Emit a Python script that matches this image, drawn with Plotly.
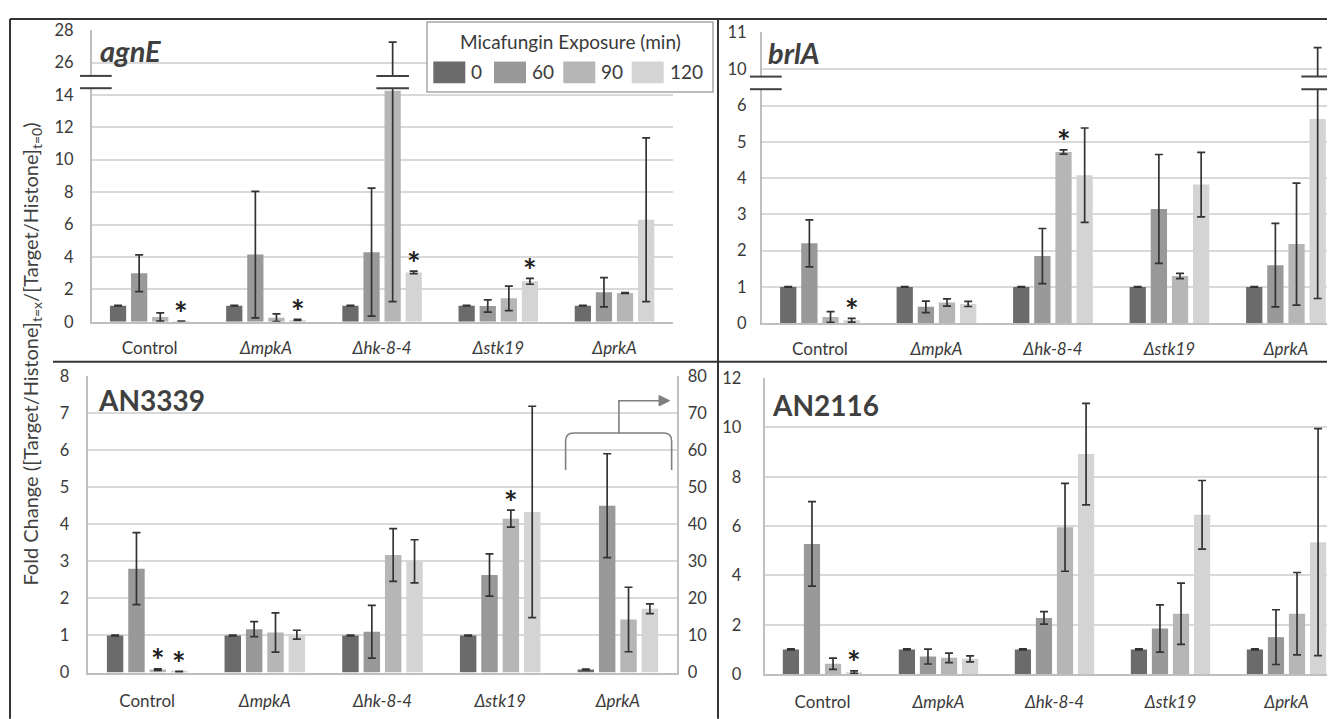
import plotly.graph_objects as go

# ---------------- data ----------------
categories = ["Control", "ΔmpkA", "Δhk-8-4", "Δstk19", "ΔprkA"]
tick_labels = ["Control", "<i>ΔmpkA</i>", "<i>Δhk-8-4</i>", "<i>Δstk19</i>", "<i>ΔprkA</i>"]
times = ["0", "60", "90", "120"]
colors = ["#6b6b6b", "#999999", "#b6b6b6", "#d4d4d4"]

# rows = exposure time (0, 60, 90, 120 min), columns = strain
agnE_mean = [[1.0, 1.0, 1.0, 1.0, 1.0],
             [3.0, 4.15, 4.3, 0.98, 1.83],
             [0.3, 0.25, 14.25, 1.45, 1.78],
             [0.03, 0.12, 3.05, 2.5, 6.3]]
agnE_err = [[0.02, 0.02, 0.02, 0.02, 0.02],
            [1.13, 3.9, 3.95, 0.38, 0.9],
            [0.25, 0.24, 13.0, 0.76, 0.03],
            [0.01, 0.03, 0.08, 0.18, 5.05]]

brlA_mean = [[1.0, 1.0, 1.0, 1.0, 1.0],
             [2.2, 0.45, 1.85, 3.15, 1.6],
             [0.17, 0.57, 4.72, 1.3, 2.18],
             [0.08, 0.53, 4.08, 3.82, 5.63]]
brlA_err = [[0.01, 0.01, 0.01, 0.01, 0.01],
            [0.65, 0.16, 0.76, 1.5, 1.15],
            [0.15, 0.1, 0.06, 0.07, 1.68],
            [0.05, 0.07, 1.3, 0.89, 4.95]]

# AN3339: last strain (ΔprkA) is plotted on the secondary axis (0-80)
AN3339_mean = [[1.0, 1.0, 1.0, 1.0, 0.8],
               [2.8, 1.17, 1.1, 2.63, 45.0],
               [0.08, 1.08, 3.17, 4.15, 14.3],
               [0.02, 1.02, 3.0, 4.33, 17.2]]
AN3339_err = [[0.01, 0.01, 0.01, 0.01, 0.1],
              [0.97, 0.2, 0.71, 0.57, 14.0],
              [0.02, 0.53, 0.71, 0.23, 8.7],
              [0.01, 0.12, 0.58, 2.85, 1.3]]

AN2116_mean = [[1.0, 1.0, 1.0, 1.0, 1.0],
               [5.28, 0.71, 2.28, 1.85, 1.5],
               [0.42, 0.66, 5.95, 2.45, 2.45],
               [0.08, 0.62, 8.92, 6.46, 5.35]]
AN2116_err = [[0.02, 0.02, 0.02, 0.02, 0.02],
              [1.71, 0.3, 0.25, 0.96, 1.11],
              [0.23, 0.19, 1.78, 1.24, 1.67],
              [0.05, 0.12, 2.06, 1.39, 4.6]]

# significance stars: (strain index, time index)
agnE_stars = [(0, 3), (1, 3), (2, 3), (3, 3)]
brlA_stars = [(0, 3), (2, 2)]
AN3339_stars = [(0, 2), (0, 3), (3, 2)]
AN2116_stars = [(0, 3)]

# ---------------- styling ----------------
OX, OY = 8, 8            # page offset of the figure (body margin)
FW, FH = 1319, 721       # figure size
SY, CY = 0.9724, 10.6    # measured vertical mapping of the photographed page
FONT = "Lato"
TXT = "#3a3a3a"
GRID = "#d9d9d9"
AXL = "#bfbfbf"
ERR = "#333333"
FRAME = "#333333"
BARGAP = 0.274
SLOT = (1 - BARGAP) / 4


def fx(p):
    return (p - OX) / FW


def fy(p):
    page = p / SY - CY
    return min(1 - 1.0 / FH, 1 - (page - OY) / FH)


fig = go.Figure()


def add_bars(xa, ya, cats, means, errs):
    for t in range(4):
        fig.add_trace(go.Bar(
            x=cats, y=means[t], name=times[t],
            marker=dict(color=colors[t], line=dict(width=0)),
            error_y=dict(type="data", array=errs[t], visible=True,
                         color=ERR, thickness=1.7, width=4),
            xaxis=xa, yaxis=ya, showlegend=False))


add_bars("x", "y", categories, agnE_mean, agnE_err)
add_bars("x", "y2", categories, agnE_mean, agnE_err)
add_bars("x2", "y3", categories, brlA_mean, brlA_err)
add_bars("x2", "y4", categories, brlA_mean, brlA_err)
add_bars("x3", "y5", categories[:4], [r[:4] for r in AN3339_mean], [r[:4] for r in AN3339_err])
add_bars("x3", "y6", categories[4:], [r[4:] for r in AN3339_mean], [r[4:] for r in AN3339_err])
add_bars("x4", "y7", categories, AN2116_mean, AN2116_err)


def xaxis(dom, anchor, rng, standoff):
    return dict(domain=[max(0, fx(dom[0])), min(1, fx(dom[1]))], anchor=anchor, type="category",
                categoryorder="array", categoryarray=categories,
                tickmode="array", tickvals=categories, ticktext=tick_labels,
                range=rng, showline=True, linecolor=AXL, linewidth=1.5,
                ticks="", showgrid=False, zeroline=False,
                tickfont=dict(family=FONT, size=17, color=TXT),
                ticklabelstandoff=standoff, fixedrange=True)


def yaxis(dom, anchor, rng, tickvals, standoff, **kw):
    d = dict(domain=[fy(dom[0]), fy(dom[1])], anchor=anchor, range=rng,
             tickmode="array", tickvals=tickvals, ticktext=[str(v) for v in tickvals],
             showgrid=True, gridcolor=GRID, gridwidth=1.5,
             showline=True, linecolor=AXL, linewidth=1.5, zeroline=False,
             ticks="", tickfont=dict(family=FONT, size=16.5, color=TXT),
             ticklabelstandoff=standoff, fixedrange=True)
    d.update(kw)
    return d


# panel geometry (reference picture pixels)
RIGHT = OX + FW
A_X = (91.6, 672.6); A_LO = (322, 88.3); A_HI = (76, 30)
B_X = (761.7, RIGHT); B_LO = (323.3, 89.3); B_HI = (76.7, 32.3)
C_X = (88.3, 676.7); C_Y = (672.7, 376)
D_X = (764.5, RIGHT); D_Y = (674.3, 378.3)

fig.update_layout(
    width=FW, height=FH, margin=dict(l=0, r=0, t=0, b=0),
    paper_bgcolor="white", plot_bgcolor="white",
    barmode="group", bargap=BARGAP, bargroupgap=0.23,
    showlegend=False,
    font=dict(family=FONT, color=TXT),
    xaxis=xaxis(A_X, "y", [-0.5, 4.5], 10),
    yaxis=yaxis(A_LO, "x", [0, 14.41], [0, 2, 4, 6, 8, 10, 12, 14], 13),
    yaxis2=yaxis(A_HI, "x", [25.19, 28], [26, 28], 13),
    xaxis2=xaxis(B_X, "y3", [-0.5, -0.5 + (RIGHT - 761.7) / 116.5], 10),
    yaxis3=yaxis(B_LO, "x2", [0, 6.45], [0, 1, 2, 3, 4, 5, 6], 10),
    yaxis4=yaxis(B_HI, "x2", [9.79, 11], [10, 11], 10),
    xaxis3=xaxis(C_X, "y5", [-0.5, 4.5], 12),
    yaxis5=yaxis(C_Y, "x3", [0, 8], list(range(0, 9)), 14),
    yaxis6=yaxis(C_Y, "x3", [0, 80], list(range(0, 81, 10)), 6,
                 overlaying="y5", side="right", showgrid=False),
    xaxis4=xaxis(D_X, "y7", [-0.5, -0.5 + (RIGHT - 764.5) / 116.0], 12),
    yaxis7=yaxis(D_Y, "x4", [0, 12], [0, 2, 4, 6, 8, 10, 12], 18),
)

shapes = []
annotations = []

# outer frame and dividers
for (x0, y0, x1, y1) in [(10, 12, RIGHT, 12), (10, 12, 10, 719), (718, 12, 718, 719),
                         (53, 362, RIGHT, 362)]:
    shapes.append(dict(type="line", xref="paper", yref="paper",
                       x0=fx(x0), y0=fy(y0), x1=fx(x1), y1=fy(y1),
                       line=dict(color=FRAME, width=2)))


# axis-break marks
def break_marks(xp0, xp1, lo, hi, xref="paper"):
    for yy in (lo[1], hi[0]):
        shapes.append(dict(type="line", xref=xref, yref="paper", x0=xp0, x1=xp1,
                           y0=fy(yy), y1=fy(yy), line=dict(color="#404040", width=2)))


break_marks(fx(80), fx(111.7), A_LO, A_HI)
break_marks(fx(750), fx(781.7), B_LO, B_HI)
# break marks across the bars that exceed the lower axis segment
half = 16.3 / 116.2
break_marks(2 + 0.5 * SLOT - half, 2 + 0.5 * SLOT + half, A_LO, A_HI, xref="x")
half_b = 16.3 / 116.5
break_marks(4 + 1.5 * SLOT - half_b, 4 + 1.5 * SLOT + half_b, B_LO, B_HI, xref="x2")

# panel titles
for txt, x, y, size in [("<b><i>agnE</i></b>", 98, 51, 29), ("<b><i>brlA</i></b>", 766, 53, 29),
                        ("<b>AN3339</b>", 96, 400, 28), ("<b>AN2116</b>", 770, 405, 28)]:
    annotations.append(dict(text=txt, xref="paper", yref="paper", x=fx(x), y=fy(y),
                            xanchor="left", yanchor="middle", showarrow=False,
                            font=dict(family=FONT, size=size, color="#404040")))


# stars
def stars(lst, means, errs, xa, ya):
    for (c, t) in lst:
        annotations.append(dict(text="<b>*</b>", x=c + (t - 1.5) * SLOT, y=means[t][c] + errs[t][c],
                                xref=xa, yref=ya, showarrow=False, xanchor="center",
                                yanchor="middle", yshift=8,
                                font=dict(family=FONT, size=32, color="#222222")))


stars(agnE_stars, agnE_mean, agnE_err, "x", "y")
stars(brlA_stars, brlA_mean, brlA_err, "x2", "y3")
stars(AN3339_stars, AN3339_mean, AN3339_err, "x3", "y5")
stars(AN2116_stars, AN2116_mean, AN2116_err, "x4", "y7")

# bracket + arrow pointing to the secondary axis (AN3339, ΔprkA)
xl, xr, yb, yt, ya = 4 - 0.444, 4 + 0.457, 54.6, 64.6, 73.3
rx, ry = 0.068, 2.2
xs, xe, hl, hh = 4.009, 4.44, 0.09, 1.4
shapes.append(dict(type="path", xref="x3", yref="y6",
                   path=f"M {xl},{yb} L {xl},{yt-ry} Q {xl},{yt} {xl+rx},{yt} L {xr-rx},{yt} "
                        f"Q {xr},{yt} {xr},{yt-ry} L {xr},{yb} "
                        f"M {xs},{yt} L {xs},{ya} L {xe-hl},{ya}",
                   line=dict(color="#7f7f7f", width=1.6)))
shapes.append(dict(type="path", xref="x3", yref="y6",
                   path=f"M {xe},{ya} L {xe-hl},{ya+hh} L {xe-hl},{ya-hh} Z",
                   fillcolor="#7f7f7f", line=dict(color="#7f7f7f", width=1)))

# y-axis title
annotations.append(dict(text="Fold Change ([Target/Histone]<sub>t=x</sub>/[Target/Histone]<sub>t=0</sub>)",
                        xref="paper", yref="paper", x=fx(31.7), y=fy(354), textangle=-90,
                        xanchor="center", yanchor="middle",
                        showarrow=False, font=dict(family=FONT, size=20, color="#404040")))

# legend box
shapes.append(dict(type="rect", xref="paper", yref="paper", x0=fx(427), x1=fx(713), y0=fy(92), y1=fy(22),
                   fillcolor="white", line=dict(color="#a6a6a6", width=1.5), layer="above"))
annotations.append(dict(text="Micafungin Exposure (min)", xref="paper", yref="paper", x=fx(570), y=fy(41.5),
                        showarrow=False, xanchor="center", yanchor="middle",
                        font=dict(family=FONT, size=19, color=TXT)))
sw_x = [433.3, 494, 563.3, 631.7]
for i, t in enumerate(times):
    shapes.append(dict(type="rect", xref="paper", yref="paper", x0=fx(sw_x[i]), x1=fx(sw_x[i] + 32),
                       y0=fy(83.3), y1=fy(61.7), fillcolor=colors[i], line=dict(width=0), layer="above"))
    annotations.append(dict(text=t, xref="paper", yref="paper", x=fx(sw_x[i] + 36), y=fy(72),
                            showarrow=False, xanchor="left", yanchor="middle",
                            font=dict(family=FONT, size=19, color=TXT)))

fig.update_layout(shapes=shapes, annotations=annotations)
fig.write_html("out.html")
